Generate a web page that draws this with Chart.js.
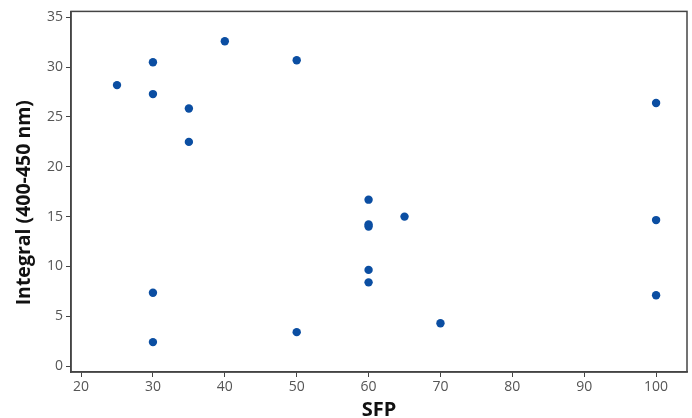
<!DOCTYPE html>
<html>
<head>
<meta charset="utf-8">
<script src="https://cdn.jsdelivr.net/npm/chart.js@4"></script>
<style>
  html, body { margin: 0; padding: 0; background: #fff; }
  #wrap { width: 692px; height: 418px; }
</style>
</head>
<body>
<div id="wrap"><canvas id="container"></canvas></div>
<script>
const sfp = [25, 30, 30, 35, 35, 40, 50, 100, 60, 60, 60, 65, 100, 60, 60, 100, 70, 30, 30, 50];
const integral = [28.2, 30.5, 27.3, 25.85, 22.5, 32.6, 30.7, 26.4, 16.7, 14.2, 14.0, 15.0, 14.65, 9.65, 8.4, 7.1, 4.3, 7.35, 2.4, 3.4];
const xTicks = [20, 30, 40, 50, 60, 70, 80, 90, 100];
const yTicks = [0, 5, 10, 15, 20, 25, 30, 35];
const yTitle = "Integral (400-450 nm)";

const points = sfp.map((x, i) => ({ x: x, y: integral[i] }));

// frame round the plot area, plus the y title (sits a bit below the axis middle)
const frame = {
  id: "frame",
  afterDraw(chart) {
    const a = chart.chartArea;
    const ctx = chart.ctx;
    ctx.save();
    ctx.strokeStyle = "#444";
    ctx.lineWidth = 1.5;
    ctx.strokeRect(a.left, a.top, a.right - a.left, a.bottom - a.top);
    ctx.translate(24, (a.top + a.bottom) / 2 + 11);
    ctx.rotate(-Math.PI / 2);
    ctx.fillStyle = "#111";
    ctx.font = "bold 19.5px 'Open Sans'";
    ctx.textAlign = "center";
    ctx.textBaseline = "middle";
    ctx.fillText(yTitle, 0, 0);
    ctx.restore();
  },
};

const config = {
  type: "scatter",
  data: {
    datasets: [
      {
        data: points,
        backgroundColor: "#0b4ea2",
        borderWidth: 0,
        pointRadius: 4.2,
      },
    ],
  },
  options: {
    responsive: false,
    animation: { duration: 0 },
    layout: { padding: { top: 10, right: 5, left: 0, bottom: 0 } },
    plugins: {
      legend: { display: false },
      tooltip: { enabled: false },
    },
    scales: {
      x: {
        min: 18.6,
        max: 104.3,
        afterBuildTicks: (s) => { s.ticks = xTicks.map((v) => ({ value: v })); },
        afterFit: (s) => { s.height = 46; },
        grid: { drawOnChartArea: false, color: "#444", tickLength: 5 },
        border: { color: "#444", width: 1.5 },
        ticks: { color: "#555", padding: 2, font: { family: "Open Sans", size: 14 } },
        title: {
          display: true,
          text: "SFP",
          color: "#111",
          padding: { top: 0, bottom: -4 },
          font: { family: "Open Sans", size: 20, weight: "bold" },
        },
      },
      y: {
        min: -0.6,
        max: 35.6,
        afterBuildTicks: (s) => { s.ticks = yTicks.map((v) => ({ value: v })); },
        afterFit: (s) => { s.width = 71; },
        grid: { drawOnChartArea: false, color: "#444", tickLength: 5 },
        border: { color: "#444", width: 1.5 },
        ticks: { color: "#555", padding: 3, font: { family: "Open Sans", size: 14 } },
      },
    },
  },
  plugins: [frame],
};

const canvas = document.getElementById("container");
canvas.width = 692;
canvas.height = 418;
const chart = new Chart(canvas, config);
</script>
</body>
</html>
